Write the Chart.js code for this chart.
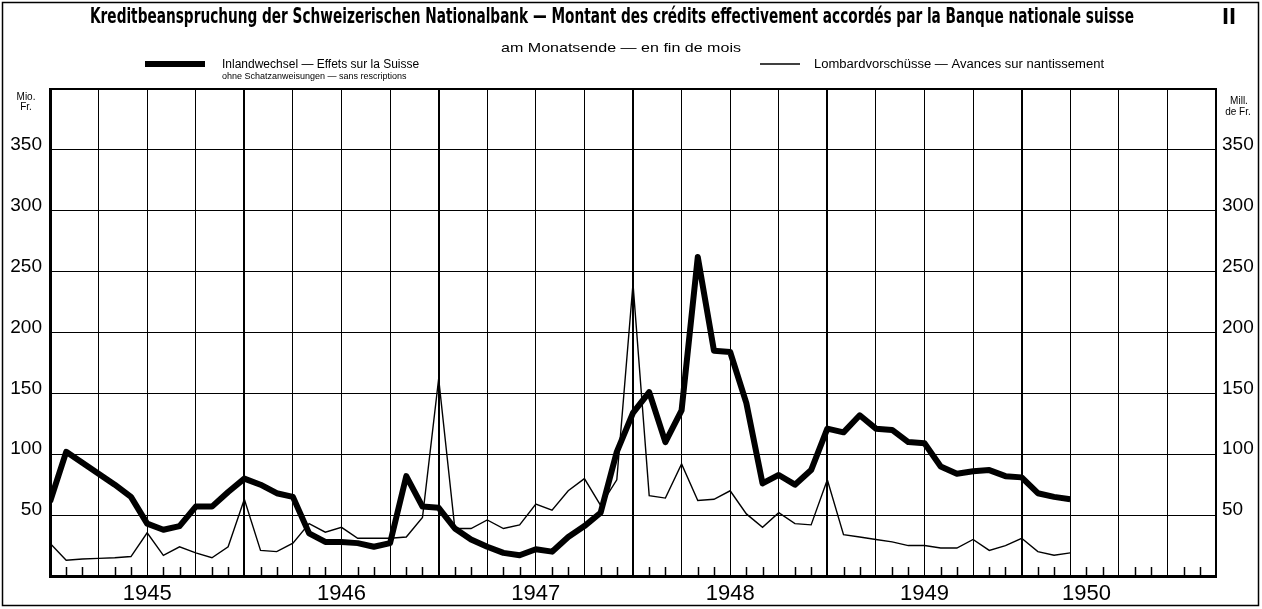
<!DOCTYPE html>
<html><head><meta charset="utf-8">
<script src="https://cdn.jsdelivr.net/npm/chart.js@4/dist/chart.umd.min.js"></script>
<style>html,body{margin:0;padding:0;background:#fff;}canvas{display:block}</style>
</head><body>
<canvas id="c" width="1262" height="609"></canvas>
<script>
// Month-end values, Dec 1944 .. Mar 1950 (Mio. Fr.)
const inlandwechsel = [61,102,93,84,75,65,43,38,41,57,57,69,80,75,68,65,35,28,28,27,24,27,82,57,56,39,30,24,19,17,22,20,32,41,52,102,134,151,110,136,262,185,184,142,76,83,75,87,121,118,132,121,120,110,109,90,84,86,87,82,81,68,65,63];
const lombard = [27,13,14,14.5,15,16,35.5,17,24,19,15,24,63,21,20,27,43,36,40,31,31,31,32,48,162,39,39,46,39,42,59,54,70,80,58,79,240,66,64,92,62,63,70,51,40,52,43,42,79,34,32,30,28,25,25,23,23,30,21,25,31,20,17,19];
const yearLabels = ['1945','1946','1947','1948','1949','1950'];
const yearTickMonths = [6,18,30,42,54,64];
const yTickValues = [50,100,150,200,250,300,350];
const titleText = 'Kreditbeanspruchung der Schweizerischen Nationalbank — Montant des crédits effectivement accordés par la Banque nationale suisse';
const subtitleText = 'am Monatsende — en fin de mois';
const legend1 = 'Inlandwechsel — Effets sur la Suisse';
const legend1b = 'ohne Schatzanweisungen — sans rescriptions';
const legend2 = 'Lombardvorschüsse — Avances sur nantissement';

const SANS = '"Liberation Sans", Arial, Helvetica, sans-serif';
const NARROW = '"Liberation Sans Narrow", "DejaVu Sans Condensed", "Liberation Sans", sans-serif';
Chart.defaults.font.family = SANS;
Chart.defaults.color = '#000';

function fitText(ctx, text, x, y, width, font, align) {
  ctx.save();
  ctx.font = font;
  const w = ctx.measureText(text).width;
  ctx.translate(x, y);
  ctx.scale(width / w, 1);
  ctx.textAlign = align || 'center';
  ctx.textBaseline = 'alphabetic';
  ctx.fillText(text, 0, 0);
  ctx.restore();
}

const decor = {
  id: 'decor',
  beforeDatasetsDraw(chart) {
    const {ctx, chartArea} = chart;
    const xs = chart.scales.x;
    ctx.save();
    ctx.strokeStyle = '#000';
    ctx.lineWidth = 1.5;
    for (let m = 1; m < 72; m++) {
      if (m % 3 === 0) continue;
      const px = Math.round(xs.getPixelForValue(m)) + 0.5;
      ctx.beginPath();
      ctx.moveTo(px, chartArea.bottom);
      ctx.lineTo(px, chartArea.bottom - 9);
      ctx.stroke();
    }
    ctx.restore();
  },
  afterDraw(chart) {
    const {ctx} = chart;
    ctx.save();
    ctx.fillStyle = '#000';
    ctx.strokeStyle = '#000';
    // outer frame
    ctx.lineWidth = 1.5;
    ctx.strokeRect(2.5, 2.5, 1256, 603);
    // title
    fitText(ctx, titleText, 612, 23, 1044, 'bold 21px ' + NARROW);
    ctx.font = 'bold 21px ' + NARROW;
    ctx.textAlign = 'center';
    ctx.fillText('II', 1229, 24);
    // subtitle
    fitText(ctx, subtitleText, 621, 52, 240, '13px ' + SANS);
    // legend
    ctx.lineWidth = 6;
    ctx.beginPath(); ctx.moveTo(145, 64); ctx.lineTo(205, 64); ctx.stroke();
    ctx.textAlign = 'left';
    ctx.font = '12px ' + SANS;
    ctx.fillText(legend1, 222, 68);
    ctx.font = '9px ' + SANS;
    ctx.fillText(legend1b, 222, 79);
    ctx.lineWidth = 1.4;
    ctx.beginPath(); ctx.moveTo(760, 64); ctx.lineTo(800, 64); ctx.stroke();
    fitText(ctx, legend2, 814, 68, 290, '12.5px ' + SANS, 'left');
    // axis units
    ctx.textAlign = 'center';
    ctx.font = '10px ' + SANS;
    ctx.fillText('Mio.', 26, 100);
    ctx.fillText('Fr.', 26, 110);
    ctx.fillText('Mill.', 1239, 104);
    ctx.fillText('de Fr.', 1238, 115);
    ctx.restore();
  }
};

const yTicksAll = () => [0, ...yTickValues, 400].map(v => ({value: v}));

new Chart(document.getElementById('c'), {
  type: 'line',
  data: {
    datasets: [
      {label: legend1, data: inlandwechsel.map((v, i) => ({x: i, y: v})), borderColor: '#000', borderWidth: 6, pointRadius: 0, tension: 0, borderJoinStyle: 'round', borderCapStyle: 'butt'},
      {label: legend2, data: lombard.map((v, i) => ({x: i, y: v})), borderColor: '#000', borderWidth: 1.4, pointRadius: 0, tension: 0}
    ]
  },
  options: {
    responsive: false, animation: false, devicePixelRatio: 1,
    layout: {padding: {top: 89, left: 0, right: 0, bottom: 0}},
    plugins: {legend: {display: false}, tooltip: {enabled: false}, title: {display: false}},
    scales: {
      x: {
        type: 'linear', min: 0, max: 72, position: 'bottom',
        ticks: {display: false, stepSize: 3},
        grid: {color: '#000', lineWidth: c => (c.tick && c.tick.value % 12 === 0) ? 2 : 1, drawTicks: false},
        border: {display: true, width: 3, color: '#000'},
        afterFit: s => { s.height = 0; }
      },
      xYears: {
        type: 'linear', min: 0, max: 72, position: 'bottom',
        grid: {display: false, drawTicks: false}, border: {display: false},
        afterBuildTicks: s => { s.ticks = yearTickMonths.map(v => ({value: v})); },
        ticks: {callback: v => yearLabels[yearTickMonths.indexOf(v)], font: {size: 22}, color: '#000', padding: 5, maxRotation: 0, autoSkip: false},
        afterFit: s => { s.height = 33; }
      },
      y: {
        min: 0, max: 400, position: 'left',
        afterBuildTicks: s => { s.ticks = yTicksAll(); },
        ticks: {callback: v => yTickValues.includes(v) ? String(v) : '', font: {size: 19}, color: '#000', padding: 8, labelOffset: -5, autoSkip: false},
        grid: {color: '#000', lineWidth: c => (c.tick && c.tick.value === 400) ? 2 : 1, drawTicks: false},
        border: {width: 3, color: '#000'},
        afterFit: s => { s.width = 50; }
      },
      y2: {
        min: 0, max: 400, position: 'right',
        afterBuildTicks: s => { s.ticks = yTicksAll(); },
        ticks: {callback: v => yTickValues.includes(v) ? String(v) : '', font: {size: 19}, color: '#000', padding: 6, labelOffset: -5, autoSkip: false},
        grid: {display: false, drawTicks: false},
        border: {width: 2, color: '#000'},
        afterFit: s => { s.width = 46; }
      }
    }
  },
  plugins: [decor]
});
</script>
</body></html>
